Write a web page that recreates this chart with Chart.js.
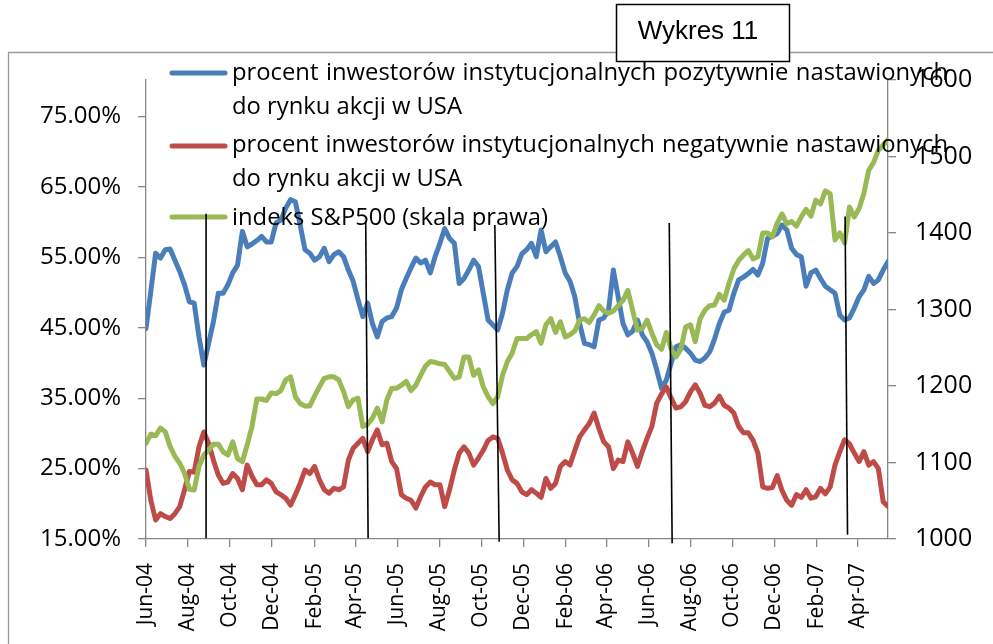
<!DOCTYPE html>
<html>
<head>
<meta charset="utf-8">
<script src="https://cdn.jsdelivr.net/npm/chart.js@4.4.1/dist/chart.umd.min.js"></script>
<style>
  html, body { margin: 0; padding: 0; background: #fff; }
</style>
</head>
<body>
<canvas id="myChart" width="993" height="644"></canvas>
<script>
// weekly readings, first week = 1 Jun 2004
const startDate = Date.UTC(2004, 5, 1);

// % of institutional investors bullish
const positive = [44.9, 50.2, 55.6, 54.9, 56.1, 56.2, 54.6, 53.0, 51.1, 48.7, 48.5, 43.7, 39.7, 42.8, 45.9, 49.9, 49.9, 51.1, 52.8, 53.9,
  58.7, 56.5, 56.9, 57.4, 58.0, 57.2, 57.2, 59.9, 60.3, 62.0, 63.2, 62.9, 59.6, 56.1, 55.6, 54.6, 55.1, 56.3, 54.4, 55.4,
  55.8, 55.1, 53.2, 51.6, 49.0, 46.6, 48.5, 45.6, 43.7, 45.9, 46.4, 46.6, 47.8, 50.4, 52.0, 53.5, 54.9, 54.2, 54.6, 52.8,
  55.1, 57.0, 59.1, 57.7, 57.0, 51.3, 52.0, 53.2, 54.6, 53.7, 49.9, 46.1, 45.4, 44.7, 47.1, 50.4, 52.8, 53.7, 55.5,
  56.1, 57.0, 55.1, 58.9, 55.8, 56.5, 57.2, 55.1, 52.8, 51.6, 49.4, 45.6, 42.8, 42.6, 42.3, 46.1, 46.4, 47.5, 53.2, 49.4,
  45.6, 44.0, 44.5, 46.1, 44.0, 43.0, 41.4, 39.0, 36.4, 37.6, 40.0, 42.3, 42.6, 42.1, 41.4, 40.4, 40.2, 40.7, 41.6,
  43.4, 45.6, 47.2, 47.5, 49.9, 51.8, 52.2, 52.7, 53.3, 52.5, 54.2, 57.7, 58.0, 58.4, 59.6, 58.9, 56.3, 55.4, 55.1, 50.9,
  52.8, 53.2, 52.0, 50.9, 50.4, 49.9, 46.8, 46.1, 46.4, 47.8, 49.4, 50.4, 52.3, 51.3, 51.8, 53.2, 54.4];

// % of institutional investors bearish
const negative = [24.8, 20.5, 17.7, 18.6, 18.2, 17.9, 18.6, 19.6, 22.0, 24.6, 24.5, 28.1, 30.2, 28.6, 26.2, 24.1, 22.9, 23.1, 24.3, 23.6,
  22.0, 25.5, 23.9, 22.7, 22.7, 23.4, 22.9, 21.7, 21.3, 20.8, 19.8, 21.3, 22.9, 24.8, 24.3, 25.3, 23.4, 22.0, 21.5, 22.2,
  22.0, 22.4, 26.2, 27.9, 28.6, 29.3, 27.4, 29.1, 30.5, 28.4, 28.6, 26.0, 25.0, 21.3, 20.8, 20.5, 19.4, 21.0, 22.4, 23.1,
  22.7, 22.7, 19.6, 22.0, 24.8, 27.2, 28.1, 27.2, 25.5, 26.5, 27.6, 29.0, 29.5, 29.3, 27.2, 24.8, 23.4, 22.9, 21.7,
  21.3, 22.0, 21.5, 20.9, 23.6, 22.2, 22.9, 25.3, 26.0, 25.5, 27.6, 29.5, 30.5, 31.4, 32.9, 30.7, 28.8, 28.1, 25.0, 26.2,
  26.0, 28.8, 27.2, 25.3, 27.4, 29.3, 31.0, 34.3, 35.6, 36.6, 35.0, 33.6, 33.8, 34.5, 35.9, 36.9, 35.7, 34.0, 33.8,
  34.3, 35.3, 34.0, 33.6, 32.9, 31.0, 30.1, 30.1, 29.0, 27.2, 22.4, 22.2, 22.3, 24.0, 21.9, 20.5, 19.8, 21.3, 20.9, 22.0,
  20.8, 21.0, 22.2, 21.4, 22.4, 25.5, 27.4, 29.1, 28.5, 27.2, 26.0, 27.4, 25.5, 26.0, 25.0, 20.3, 19.6];

// S&P500 index (right axis)
const sp500 = [1125, 1137, 1135, 1145, 1140, 1121, 1108, 1099, 1086, 1065, 1064, 1095, 1110, 1116, 1124, 1124, 1114, 1110, 1127, 1105,
  1101, 1123, 1147, 1183, 1183, 1181, 1191, 1190, 1194, 1208, 1212, 1186, 1177, 1174, 1174, 1187, 1199, 1210, 1212, 1212,
  1208, 1193, 1173, 1182, 1184, 1147, 1150, 1158, 1171, 1153, 1182, 1197, 1197, 1201, 1206, 1194, 1201, 1214, 1226, 1232,
  1231, 1229, 1228, 1219, 1210, 1212, 1238, 1238, 1214, 1221, 1199, 1186, 1177, 1186, 1214, 1232, 1243, 1262, 1262,
  1262, 1267, 1271, 1256, 1280, 1288, 1270, 1284, 1264, 1267, 1272, 1286, 1288, 1283, 1293, 1305, 1298, 1295, 1298, 1305,
  1312, 1325, 1299, 1273, 1275, 1286, 1269, 1254, 1248, 1270, 1248, 1238, 1248, 1277, 1280, 1258, 1288, 1299, 1305,
  1306, 1320, 1312, 1334, 1353, 1364, 1371, 1377, 1366, 1369, 1400, 1400, 1395, 1413, 1425, 1412, 1415, 1409, 1421, 1431,
  1422, 1443, 1438, 1455, 1451, 1391, 1400, 1387, 1434, 1421, 1432, 1452, 1482, 1492, 1508, 1515, 1522];

const seriesNames = [
  'procent inwestorów instytucjonalnych pozytywnie nastawionych do rynku akcji w USA',
  'procent inwestorów instytucjonalnych negatywnie nastawionych do rynku akcji w USA',
  'indeks S&P500 (skala prawa)'
];

const tickLabels = ['Jun-04', 'Aug-04', 'Oct-04', 'Dec-04', 'Feb-05', 'Apr-05', 'Jun-05', 'Aug-05', 'Oct-05',
  'Dec-05', 'Feb-06', 'Apr-06', 'Jun-06', 'Aug-06', 'Oct-06', 'Dec-06', 'Feb-07', 'Apr-07'];
const leftTicks = [15, 25, 35, 45, 55, 65, 75];

// hand drawn vertical lines (week index, left axis %)
const markerWeekTop = [12.47, 45.6, 72.4, 108.6, 145.1];
const markerWeekBottom = [12.47, 46.1, 73.3, 109.2, 145.6];
const markerTop = [61.2, 60.1, 59.6, 59.9, 60.8];
const markerBottom = [15.1, 15.1, 14.6, 14.4, 15.6];

const monthNames = ['Jan', 'Feb', 'Mar', 'Apr', 'May', 'Jun', 'Jul', 'Aug', 'Sep', 'Oct', 'Nov', 'Dec'];
const dayOf = label => {
  const [m, y] = label.split('-');
  return (Date.UTC(2000 + Number(y), monthNames.indexOf(m), 1) - startDate) / 86400000;
};
const tickDays = tickLabels.map(dayOf);
const toPoints = arr => arr.map((v, i) => ({ x: i * 7, y: v }));

const blue = '#4a7ebb', red = '#be4b48', green = '#98b954';
const axisGrey = '#868686';
const font = 'Open Sans';

const decor = {
  id: 'decor',
  beforeDraw(chart) {
    const ctx = chart.ctx;
    ctx.save();
    ctx.fillStyle = '#fff';
    ctx.fillRect(0, 0, chart.width, chart.height);
    ctx.strokeStyle = '#9a9a9a';
    ctx.lineWidth = 1.3;
    ctx.beginPath();
    ctx.moveTo(8.5, chart.height);
    ctx.lineTo(8.5, 52.5);
    ctx.lineTo(chart.width, 52.5);
    ctx.stroke();
    ctx.restore();
  },
  afterDraw(chart) {
    const ctx = chart.ctx;
    ctx.save();

    // legend
    let size = 21;
    ctx.font = size + 'px "' + font + '"';
    size = size * 230 / ctx.measureText('do rynku akcji w USA').width;
    ctx.font = size.toFixed(2) + 'px "' + font + '"';
    ctx.fillStyle = '#000';
    ctx.textBaseline = 'alphabetic';
    const rows = [
      { color: blue, lineY: 73, base: 80, lines: ['procent inwestorów instytucjonalnych pozytywnie nastawionych', 'do rynku akcji w USA'] },
      { color: red, lineY: 146, base: 152, lines: ['procent inwestorów instytucjonalnych negatywnie nastawionych', 'do rynku akcji w USA'] },
      { color: green, lineY: 217, base: 225, lines: ['indeks S&P500 (skala prawa)'] }
    ];
    const textLeft = 232, textRight = 948;
    rows.forEach(r => {
      ctx.strokeStyle = r.color;
      ctx.lineWidth = 5;
      ctx.lineCap = 'round';
      ctx.beginPath();
      ctx.moveTo(172, r.lineY);
      ctx.lineTo(225, r.lineY);
      ctx.stroke();
      r.lines.forEach((line, k) => {
        const y = r.base + k * 34;
        if (r.lines.length > 1 && k === 0) {
          const words = line.split(' ');
          const wsum = words.reduce((s, w) => s + ctx.measureText(w).width, 0);
          const gap = (textRight - textLeft - wsum) / (words.length - 1);
          let x = textLeft;
          words.forEach(w => { ctx.fillText(w, x, y); x += ctx.measureText(w).width + gap; });
        } else {
          ctx.fillText(line, textLeft, y);
        }
      });
    });

    // vertical marker lines
    const xs = chart.scales.x, ys = chart.scales.y;
    ctx.strokeStyle = '#000';
    ctx.lineWidth = 1.6;
    ctx.lineCap = 'butt';
    markerTop.forEach((t, i) => {
      ctx.beginPath();
      ctx.moveTo(xs.getPixelForValue(markerWeekTop[i] * 7), ys.getPixelForValue(t));
      ctx.lineTo(xs.getPixelForValue(markerWeekBottom[i] * 7), ys.getPixelForValue(markerBottom[i]));
      ctx.stroke();
    });

    // title box
    ctx.fillStyle = '#fff';
    ctx.fillRect(616, 4, 174, 58);
    ctx.strokeStyle = '#000';
    ctx.lineWidth = 1.5;
    ctx.strokeRect(616.5, 4.5, 173, 57);
    ctx.fillStyle = '#000';
    ctx.font = '26px "Liberation Sans", Arial, sans-serif';
    ctx.textAlign = 'center';
    ctx.fillText('Wykres 11', 698, 39);
    ctx.restore();
  }
};

const lineStyle = c => ({
  borderColor: c, backgroundColor: c, borderWidth: 5, pointRadius: 0, tension: 0,
  borderJoinStyle: 'round', borderCapStyle: 'round', fill: false
});

const config = {
  type: 'line',
  data: {
    datasets: [
      { label: seriesNames[0], data: toPoints(positive), yAxisID: 'y', order: 3, ...lineStyle(blue) },
      { label: seriesNames[1], data: toPoints(negative), yAxisID: 'y', order: 2, ...lineStyle(red) },
      { label: seriesNames[2], data: toPoints(sp500), yAxisID: 'y1', order: 1, ...lineStyle(green) }
    ]
  },
  options: {
    responsive: false,
    animation: false,
    layout: { padding: { top: 80, left: 0, right: 0, bottom: 0 } },
    plugins: { legend: { display: false }, tooltip: { enabled: false } },
    scales: {
      x: {
        type: 'linear',
        min: 0,
        max: (positive.length - 1) * 7,
        afterBuildTicks: s => { s.ticks = tickDays.map(v => ({ value: v })); },
        afterFit: s => { s.height = 105; },
        ticks: {
          autoSkip: false, minRotation: 90, maxRotation: 90, padding: 16, color: '#000',
          font: { family: font, size: 21 },
          callback: (v, i) => tickLabels[i]
        },
        grid: { drawOnChartArea: false, tickLength: 8, color: axisGrey, lineWidth: 1.3 },
        border: { color: axisGrey, width: 1.3 }
      },
      y: {
        position: 'left',
        min: 15,
        max: 80.2,
        afterBuildTicks: s => { s.ticks = leftTicks.map(v => ({ value: v })); },
        afterFit: s => { s.width = 146; },
        ticks: {
          padding: 17, color: '#000', font: { family: font, size: 24 },
          callback: v => v.toFixed(2) + '%'
        },
        grid: { drawOnChartArea: false, tickLength: 8, color: axisGrey, lineWidth: 1.3 },
        border: { color: axisGrey, width: 1.3 }
      },
      y1: {
        position: 'right',
        min: 1000,
        max: 1600,
        afterFit: s => { s.width = 105; },
        ticks: {
          stepSize: 100, padding: 19, color: '#000', font: { family: font, size: 25 },
          callback: v => String(v)
        },
        grid: { drawOnChartArea: false, tickLength: 8, color: axisGrey, lineWidth: 1.3 },
        border: { color: axisGrey, width: 1.3 }
      }
    }
  },
  plugins: [decor]
};

const myChart = new Chart(document.getElementById('myChart'), config);
</script>
</body>
</html>
